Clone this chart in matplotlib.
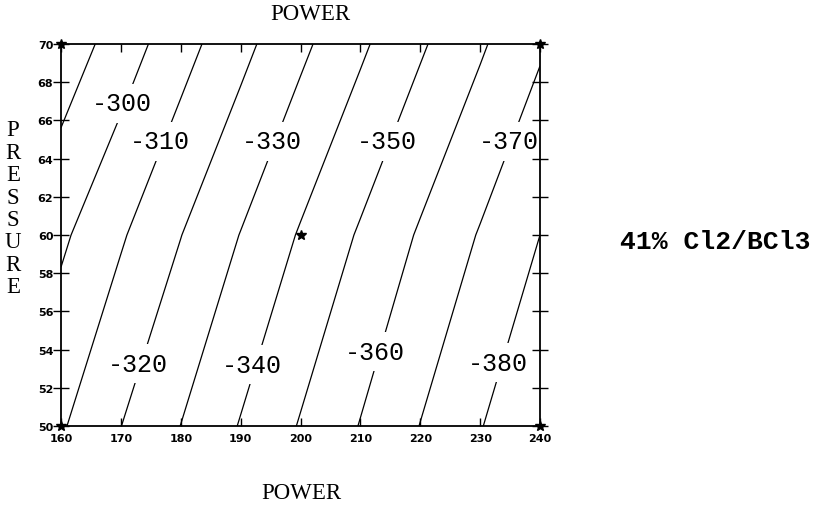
import numpy as np
import matplotlib
matplotlib.use("Agg")
import matplotlib.pyplot as plt

# Response surface values (etch rate) on a power x pressure grid
power = [160, 170, 180, 190, 200, 210, 220, 230, 240]
pressure = [50, 60, 70]
rate_p50 = [-308.9, -319.9, -330.1, -340.6, -350.7, -360.4, -370.2, -379.5, -388.9]
rate_p60 = [-298.2, -308.9, -319.8, -330.3, -340.9, -351.1, -361.1, -370.7, -380.0]
rate_p70 = [-283.6, -294.8, -306.1, -317.1, -327.8, -338.3, -348.7, -358.7, -368.7]

levels = [-380, -370, -360, -350, -340, -330, -320, -310, -300, -290]

# Labelled contours and where their labels sit
label_levels = [-300, -310, -330, -350, -370, -320, -340, -360, -380]
label_power = [170.2, 176.5, 195.2, 214.4, 234.8, 172.9, 191.9, 212.4, 233.0]
label_pressure = [66.9, 64.9, 64.9, 64.9, 64.9, 53.25, 53.2, 53.9, 53.3]

# Design points (corners and centre)
design_power = [160, 160, 240, 240, 200]
design_pressure = [50, 70, 50, 70, 60]

x_ticks = list(range(160, 241, 10))
y_ticks = list(range(50, 71, 2))

W, H = 823, 510
fig = plt.figure(figsize=(W / 100, H / 100), dpi=100)
ax = fig.add_axes([61 / W, 1 - 427 / H, (540 - 61) / W, (427 - 45) / H])
ax.set_axisbelow(False)

X, Y = np.meshgrid(power, pressure)
Z = np.array([rate_p50, rate_p60, rate_p70])
ax.contour(X, Y, Z, levels=levels, colors="black", linewidths=0.9,
           linestyles="solid", zorder=2)

for lev, px, py in zip(label_levels, label_power, label_pressure):
    ax.text(px, py, f"{lev}", family="Liberation Mono", fontsize=18,
            ha="center", va="center", zorder=2.2,
            bbox=dict(boxstyle="square,pad=0.3", fc="white", ec="none"))

ax.plot(design_power, design_pressure, "*", ms=7, color="black",
        clip_on=False, zorder=5)

ax.set_xlim(160, 240)
ax.set_ylim(50, 70)
for s in ax.spines.values():
    s.set_linewidth(1.3)
    s.set_zorder(3)

ax.set_xticks(x_ticks)
ax.set_yticks(y_ticks)
ax.tick_params(axis="x", which="both", direction="in", length=6, width=1,
               top=True, labeltop=False, pad=5, labelsize=8)
ax.tick_params(axis="y", which="both", direction="inout", length=11, width=1,
               right=True, labelright=False, pad=0, labelsize=8)
for lab in ax.get_xticklabels() + ax.get_yticklabels():
    lab.set_fontweight("bold")
    lab.set_family("DejaVu Sans")

fig.text(310 / W, 1 - 14 / H, "POWER", family="Liberation Serif",
         fontsize=16.5, ha="center", va="center")
fig.text(301 / W, 1 - 494 / H, "POWER", family="Liberation Serif",
         fontsize=16.5, ha="center", va="center")
for i, ch in enumerate("PRESSURE"):
    fig.text(13 / W, 1 - (131 + i * 22.4) / H, ch, family="Liberation Serif",
             fontsize=16.5, ha="center", va="center")

fig.text(715 / W, 1 - 242 / H, "41% Cl2/BCl3", family="Liberation Mono",
         fontweight="bold", fontsize=19, ha="center", va="center")

fig.savefig("out.png", dpi=100)
